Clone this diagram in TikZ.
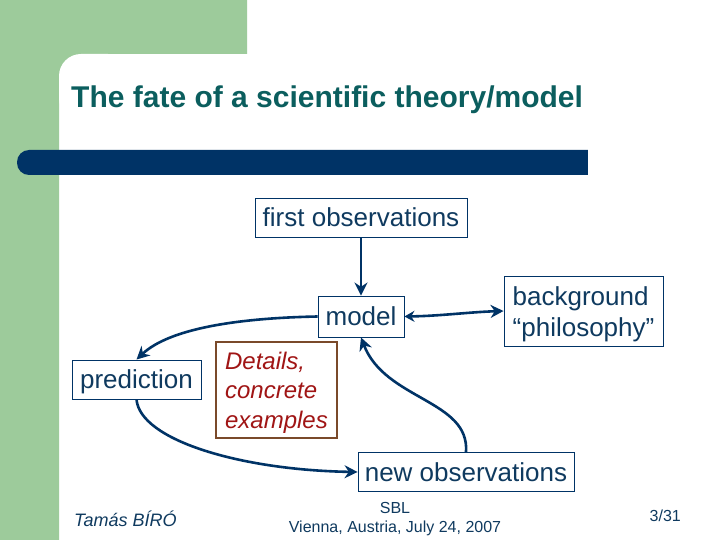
\documentclass[tikz,border=0pt]{standalone}
\usepackage{fontspec}
\setmainfont{Liberation Sans}
\usetikzlibrary{arrows.meta}
\definecolor{leaf}{HTML}{9DCB9B}
\definecolor{navy}{HTML}{003366}
\definecolor{titleteal}{HTML}{0B5E5E}
\definecolor{boxtext}{HTML}{0F3A5F}
\definecolor{detailred}{HTML}{A01515}
\definecolor{detailbox}{HTML}{7A4A2A}
\tikzset{
  x=1pt,y=-1pt,
  diagbox/.style={draw=navy,line width=0.9pt,fill=white,text=boxtext,font=\fontsize{26}{31}\selectfont,inner sep=0pt,align=left},
  flow/.style={draw=navy,line width=2.6pt,-{Stealth[length=13pt,width=13pt]}},
  flowboth/.style={draw=navy,line width=2.6pt,{Stealth[length=10pt,width=11pt]}-{Stealth[length=13pt,width=13pt]}},
  plain/.style={text=boxtext,font=\fontsize{16}{19}\selectfont,inner sep=0pt},
}
\begin{document}
\begin{tikzpicture}
\useasboundingbox (0,0) rectangle (720,540);
\fill[white] (0,0) rectangle (720,540);
\fill[leaf] (0,0) rectangle (247,54) (0,54) rectangle (59,540) (59,54) rectangle (100,100);
\fill[white,rounded corners=22pt] (59,120) -- (59,54) -- (130,54) -- (130,120) -- cycle;
\fill[navy,rounded corners=12pt] (17,150) rectangle (600,175);
\fill[white] (588,149) rectangle (605,176);
\node[anchor=west,inner sep=0pt,text=titleteal,font=\bfseries\fontsize{30}{35}\selectfont] (title) at (71,100) {The fate of a scientific theory/model};

\node[diagbox,minimum width=212pt,minimum height=39pt] (first) at (361,217.5) {first observations};
\node[diagbox,minimum width=86pt,minimum height=41pt] (model) at (361,316.5) {model};
\node[diagbox,minimum width=159pt,minimum height=70pt] (bg) at (583.5,311) {\rule{0pt}{25pt}background\\“philosophy”};
\node[diagbox,minimum width=129pt,minimum height=39pt,text height=18pt,text depth=0pt] (pred) at (136.5,379.5) {prediction};
\node[diagbox,draw=detailbox,line width=1.6pt,text=detailred,minimum width=121pt,minimum height=96pt,font=\itshape\fontsize{24}{29.5}\selectfont] (det) at (276.5,390) {\rule{0pt}{22pt}Details,\\concrete\\examples};
\node[diagbox,minimum width=216pt,minimum height=39pt] (new) at (466,472) {new observations};

\draw[flow] (first.south) -- (model.north);
\draw[flowboth] (model.east) .. controls (440,316) and (470,312) .. (bg.west);
\draw[flow] (model.west) .. controls (240,318) and (170,328) .. (pred.north);
\draw[flow] (pred.south) .. controls (140,440) and (240,470) .. (new.west);
\draw[flow] (new.north) .. controls (470,400) and (385,400) .. (model.south);

\node[plain,font=\itshape\fontsize{18}{21}\selectfont,anchor=west] (author) at (74,519) {Tamás BÍRÓ};
\node[plain,align=center] (conf) at (395,519.5) {SBL\\Vienna, Austria, July 24, 2007};
\node[plain,anchor=east] (page) at (681,516) {3/31};
\end{tikzpicture}
\end{document}
